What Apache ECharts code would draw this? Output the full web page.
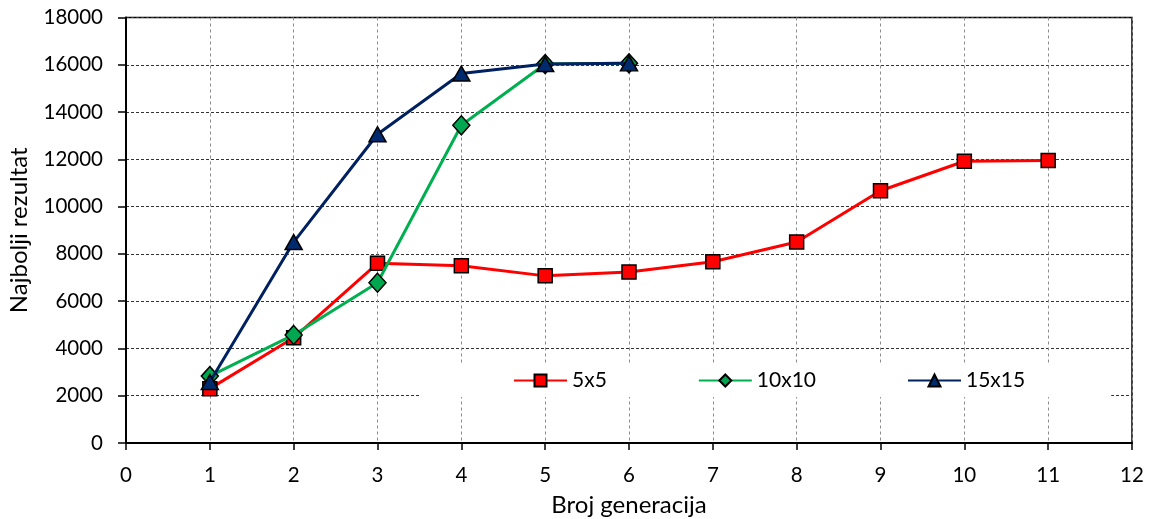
<!DOCTYPE html>
<html>
<head>
<meta charset="utf-8">
<script src="https://cdn.jsdelivr.net/npm/echarts@6/dist/echarts.min.js"></script>
<style>html,body{margin:0;padding:0;background:#fff;}#c{width:1151px;height:519px;}</style>
</head>
<body>
<div id="c"></div>
<script>
const seriesNames = ['5x5', '10x10', '15x15'];
const gens5 = [1, 2, 3, 4, 5, 6, 7, 8, 9, 10, 11];
const vals5 = [2300, 4450, 7600, 7500, 7070, 7230, 7670, 8500, 10670, 11920, 11950];
const gens10 = [1, 2, 3, 4, 5, 6];
const vals10 = [2830, 4570, 6780, 13440, 16030, 16060];
const gens15 = [1, 2, 3, 4, 5, 6];
const vals15 = [2580, 8500, 13060, 15630, 16030, 16060];
const xLabel = 'Broj generacija';
const yLabel = 'Najbolji rezultat';

const FONT = 'Lato';
const pair = (xs, ys) => xs.map((x, i) => [x, ys[i]]);

const chart = echarts.init(document.getElementById('c'));
const markerStyle = (c) => ({ color: c, borderColor: '#000', borderWidth: 1.5 });
chart.setOption({
  animation: false,
  backgroundColor: '#fff',
  textStyle: { fontFamily: FONT },
  grid: { left: 126, right: 19, top: 17.5, bottom: 76, show: true, borderColor: '#000', borderWidth: 1.5,
          backgroundColor: 'transparent', containLabel: false, outerBoundsMode: 'none' },
  legend: {
    left: 421, top: 364,
    padding: [6, 86, 6, 92],
    itemGap: 91,
    itemWidth: 53, itemHeight: 15,
    backgroundColor: '#fff',
    textStyle: { fontFamily: FONT, fontSize: 21, color: '#000' },
    data: seriesNames
  },
  xAxis: {
    type: 'value', min: 0, max: 12, interval: 1,
    name: xLabel, nameLocation: 'middle', nameGap: 50,
    nameTextStyle: { fontFamily: FONT, fontSize: 24, color: '#000' },
    axisLine: { onZero: false, lineStyle: { color: '#000', width: 2 } },
    axisTick: { show: true, length: 7, lineStyle: { color: '#000', width: 1.5 } },
    axisLabel: { fontFamily: FONT, fontSize: 20.5, color: '#000', margin: 22 },
    splitLine: { show: true, lineStyle: { color: '#8c8c8c', type: [3, 3], width: 1 } }
  },
  yAxis: {
    type: 'value', min: 0, max: 18000, interval: 2000,
    name: yLabel, nameLocation: 'middle', nameGap: 95, nameRotate: 90,
    nameTextStyle: { fontFamily: FONT, fontSize: 24, color: '#000' },
    axisLine: { show: true, onZero: false, lineStyle: { color: '#000', width: 2 } },
    axisTick: { show: true, length: 8, lineStyle: { color: '#000', width: 1.5 } },
    axisLabel: { fontFamily: FONT, fontSize: 20.5, color: '#000', margin: 23, formatter: (v) => String(v) },
    splitLine: { show: true, lineStyle: { color: '#333', type: [3, 2], width: 1 } }
  },
  series: [
    { name: seriesNames[0], type: 'line', data: pair(gens5, vals5), symbol: 'rect', symbolSize: 14,
      lineStyle: { color: '#ff0000', width: 3 }, itemStyle: markerStyle('#ff0000'), color: '#ff0000', z: 2 },
    { name: seriesNames[1], type: 'line', data: pair(gens10, vals10), symbol: 'diamond', symbolSize: [17, 19],
      lineStyle: { color: '#00b050', width: 3 }, itemStyle: markerStyle('#00a650'), color: '#00b050', z: 3 },
    { name: seriesNames[2], type: 'line', data: pair(gens15, vals15), symbol: 'triangle', symbolSize: [17, 15],
      lineStyle: { color: '#002060', width: 3 }, itemStyle: markerStyle('#002a6e'), color: '#002060', z: 4 }
  ]
});
</script>
</body>
</html>
